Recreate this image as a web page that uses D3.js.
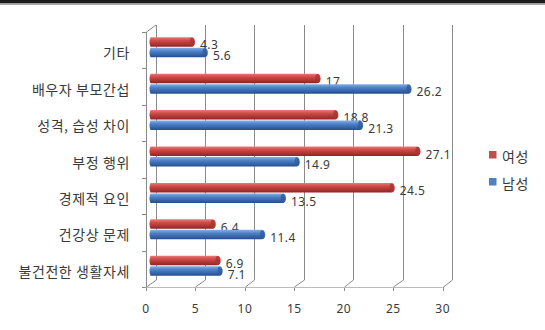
<!DOCTYPE html>
<html><head><meta charset="utf-8">
<script src="https://cdn.jsdelivr.net/npm/d3@7/dist/d3.min.js"></script>
<style>body{margin:0;background:#fff}svg{display:block}</style>
</head><body>
<svg id="c" width="545" height="330"></svg>
<script>
const categories = ["기타","배우자 부모간섭","성격, 습성 차이","부정 행위","경제적 요인","건강상 문제","불건전한 생활자세"];
const seriesNames = ["여성","남성"];
const femaleValues = [4.3,17,18.8,27.1,24.5,6.4,6.9];
const maleValues = [5.6,26.2,21.3,14.9,13.5,11.4,7.1];
const xTicks = [0,5,10,15,20,25,30];

const svg = d3.select("#c");
const defs = svg.append("defs");
function grad(id, c1, c2, c3){
  const g = defs.append("linearGradient").attr("id",id).attr("x1",0).attr("y1",0).attr("x2",0).attr("y2",1);
  g.append("stop").attr("offset","0%").attr("stop-color",c1);
  g.append("stop").attr("offset","35%").attr("stop-color",c2);
  g.append("stop").attr("offset","100%").attr("stop-color",c3);
}
grad("gRed","#e87a78","#cf4a47","#8e2523");
grad("gBlue","#86aee6","#4f82c9","#244f8c");
const colors = ["url(#gRed)","url(#gBlue)"];
const capColors = ["#a83432","#2f5c9c"];
const legendColors = ["#c0504d","#4f81bd"];
const textColor = "#3a3a3a";

// frame
svg.append("rect").attr("x",0).attr("y",0).attr("width",545).attr("height",3.5).attr("fill","#1c1c1c");
svg.append("rect").attr("x",0).attr("y",3.5).attr("width",545).attr("height",1.5).attr("fill","#aaa");

const frontX0 = 146, backDX = 9.5, backDY = -7;
const x = d3.scaleLinear().domain([0,30]).range([frontX0, frontX0 + 30*9.89]);
const y = d3.scaleBand().domain(categories).range([32, 287]);
const floorY = 287;

const grid = svg.append("g").attr("stroke","#8a8a8a").attr("stroke-width",1).attr("fill","none");
xTicks.forEach(t=>{
  const bx = Math.round(x(t)+backDX)+0.5;
  grid.append("line").attr("x1",bx).attr("x2",bx).attr("y1",32+backDY).attr("y2",floorY+backDY);
  grid.append("line").attr("x1",bx).attr("y1",floorY+backDY).attr("x2",Math.round(x(t))+0.5).attr("y2",floorY);
  grid.append("line").attr("x1",Math.round(x(t))+0.5).attr("x2",Math.round(x(t))+0.5).attr("y1",floorY).attr("y2",floorY+4);
});
grid.append("line").attr("x1",x(0)).attr("x2",x(30)).attr("y1",floorY+0.5).attr("y2",floorY+0.5).attr("stroke","#bbb");
grid.append("line").attr("x1",x(0)+0.5).attr("x2",x(0)+0.5).attr("y1",32).attr("y2",floorY);
grid.append("line").attr("x1",x(0)+0.5).attr("y1",32).attr("x2",x(0)+backDX+0.5).attr("y2",32+backDY);
categories.forEach((c,i)=>{
  const yy = Math.round(y(c))+0.5;
  grid.append("line").attr("x1",x(0)-4).attr("x2",x(0)).attr("y1",yy).attr("y2",yy);
});
grid.append("line").attr("x1",x(0)-4).attr("x2",x(0)).attr("y1",floorY+0.5).attr("y2",floorY+0.5);

// x tick labels
svg.append("g").selectAll("text").data(xTicks).join("text")
  .attr("x",d=>x(d)).attr("y",312.5).attr("text-anchor","middle")
  .attr("font-family","Noto Sans, sans-serif").attr("font-size",12).attr("letter-spacing",0.5).attr("fill",textColor).text(d=>d);

// category labels
svg.append("g").selectAll("text").data(categories).join("text")
  .attr("x",130).attr("y",d=>y(d)+y.bandwidth()/2+2).attr("text-anchor","end").attr("dominant-baseline","central")
  .attr("font-family","Noto Sans CJK KR, sans-serif").attr("font-size",14).attr("letter-spacing",0.6).attr("fill",textColor).text(d=>d);

// bars
const barX0 = 150.5;
const xb = d3.scaleLinear().domain([0,30]).range([barX0, barX0 + 30*9.89]);
const barH = 9.5;
const allVals = [femaleValues, maleValues];
allVals.forEach((vals,s)=>{
  const g = svg.append("g");
  vals.forEach((v,i)=>{
    const cy = y(categories[i]) + y.bandwidth()/2 - 3;
    const top = s===0 ? cy - barH - 0.5 : cy + 0.5;
    const x1 = xb(v);
    g.append("path")
      .attr("d",`M${barX0},${top} H${x1-2} Q${x1+2},${top} ${x1+2},${top+barH/2} Q${x1+2},${top+barH} ${x1-2},${top+barH} H${barX0} Q${barX0-2},${top+barH/2} ${barX0},${top} Z`)
      .attr("fill",colors[s]);
    g.append("ellipse").attr("cx",x1-1).attr("cy",top+barH/2).attr("rx",2.2).attr("ry",barH/2-0.3).attr("fill",capColors[s]).attr("opacity",0.8);
    g.append("text").attr("x",x1+7).attr("y",top+barH/2+3).attr("dominant-baseline","central")
      .attr("font-family","Noto Sans, sans-serif").attr("font-size",12).attr("letter-spacing",0.4).attr("fill",textColor).text(v);
  });
});

// legend
const leg = svg.append("g");
seriesNames.forEach((n,i)=>{
  const ly = 155 + i*27;
  leg.append("rect").attr("x",489).attr("y",ly-4).attr("width",7.5).attr("height",7.5).attr("fill",legendColors[i]);
  leg.append("text").attr("x",502).attr("y",ly+0.5).attr("dominant-baseline","central")
    .attr("font-family","Noto Sans CJK KR, sans-serif").attr("font-size",14).attr("letter-spacing",0.5).attr("fill",textColor).text(n);
});
</script>
</body></html>
